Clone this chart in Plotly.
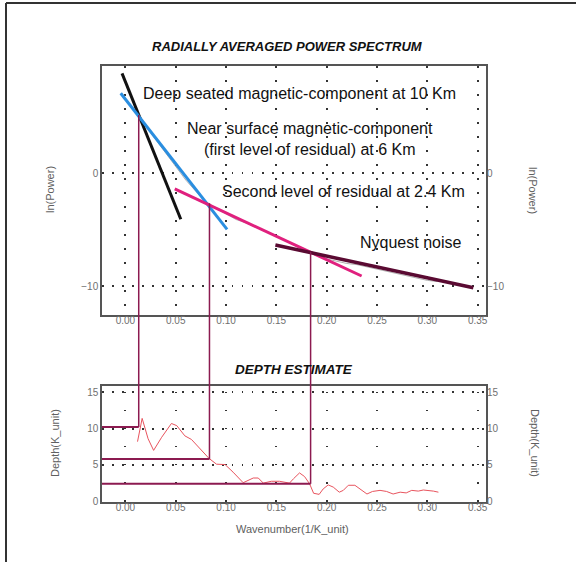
import plotly.graph_objects as go

# ---------------- data ----------------
# fitted straight-line segments on the power spectrum (wavenumber, ln(power))
deep_k = [-0.0034, 0.055]
deep_p = [8.87, -4.08]
near_k = [-0.0047, 0.101]
near_p = [7.1, -4.97]
second_k = [0.049, 0.2347]
second_p = [-1.39, -9.11]
nyq_k = [0.149, 0.3457]
nyq_p = [-6.36, -10.15]

# underlying (mostly hidden) radially averaged spectrum
spec_k = [0.005, 0.01, 0.02, 0.03, 0.04, 0.05, 0.06, 0.07, 0.08, 0.09, 0.10, 0.11,
          0.12, 0.13, 0.14, 0.15, 0.16, 0.17, 0.18, 0.19, 0.20, 0.21, 0.22, 0.23,
          0.24, 0.25, 0.26, 0.27, 0.28, 0.29, 0.30, 0.31]
spec_p = [5.9, 5.6, 4.2, 3.0, 1.9, 0.6, -0.6, -1.6, -2.5, -3.1, -3.6, -4.1,
          -4.4, -4.8, -5.2, -5.6, -6.0, -6.5, -6.9, -7.3, -7.6, -7.8, -8.0, -8.1,
          -8.3, -8.5, -8.7, -8.9, -9.1, -9.3, -9.5, -9.6]

# break points (intersections) and resulting depths
break_k = [0.0132, 0.0835, 0.184]
break_p = [5.17, -2.66, -6.96]
break_depth = [10.2, 5.8, 2.4]

# depth estimate curve
depth_k = [0.012, 0.0166, 0.0225, 0.028, 0.036, 0.0457, 0.051, 0.059, 0.0656, 0.074,
           0.083, 0.0905, 0.099, 0.107, 0.117, 0.127, 0.132, 0.137, 0.145, 0.153,
           0.163, 0.167, 0.173, 0.178, 0.183, 0.187, 0.1925, 0.1965, 0.2015, 0.2065,
           0.2125, 0.2165, 0.2215, 0.228, 0.2345, 0.24, 0.2455, 0.253, 0.2595, 0.266,
           0.273, 0.279, 0.2845, 0.291, 0.296, 0.301, 0.306, 0.311]
depth_v = [8.2, 11.4, 8.6, 7.0, 8.8, 10.7, 10.4, 9.0, 8.5, 7.3,
           5.9, 5.1, 5.05, 4.0, 2.55, 3.2, 3.2, 2.5, 2.75, 2.75,
           2.5, 3.1, 3.9, 3.4, 2.4, 1.1, 0.95, 1.7, 2.25, 1.95,
           1.25, 1.5, 2.2, 2.2, 1.5, 1.0, 1.35, 1.5, 1.35, 1.0,
           1.25, 1.15, 1.5, 1.4, 1.55, 1.5, 1.4, 1.25]

x_ticks = [0.0, 0.05, 0.10, 0.15, 0.20, 0.25, 0.30, 0.35]
top_yticks = [-10, 0]
bot_yticks = [0, 5, 10, 15]

# ---------------- layout geometry ----------------
X_RANGE = [-0.0233, 0.3583]
TOP_RANGE = [-12.57, 9.52]
BOT_RANGE = [-0.1, 15.85]
TOP_DOM = [0.4289, 1.0]
BOT_DOM = [0.0, 0.266]

FONT = "Arial, Liberation Sans, sans-serif"
TICKFONT = dict(family=FONT, size=10, color="#707070")
FRAME = "#555555"
GRID = "#333333"
CONNECT = "#8c1a50"


def to_paper(v, rng, dom):
    return dom[0] + (v - rng[0]) / (rng[1] - rng[0]) * (dom[1] - dom[0])


fig = go.Figure()

# top subplot traces
fig.add_trace(go.Scatter(x=spec_k, y=spec_p, mode="lines",
                         line=dict(color="#b0b0b0", width=1), xaxis="x", yaxis="y"))
fig.add_trace(go.Scatter(x=deep_k, y=deep_p, mode="lines",
                         line=dict(color="#111111", width=3), xaxis="x", yaxis="y"))
fig.add_trace(go.Scatter(x=near_k, y=near_p, mode="lines",
                         line=dict(color="#2a8ee0", width=3), xaxis="x", yaxis="y"))
fig.add_trace(go.Scatter(x=second_k, y=second_p, mode="lines",
                         line=dict(color="#e0207e", width=3), xaxis="x", yaxis="y"))
fig.add_trace(go.Scatter(x=nyq_k, y=nyq_p, mode="lines",
                         line=dict(color="#5a0a32", width=3.5), xaxis="x", yaxis="y3"))

# bottom subplot traces
fig.add_trace(go.Scatter(x=depth_k, y=depth_v, mode="lines",
                         line=dict(color="#e8545e", width=1), xaxis="x2", yaxis="y2"))
for k, d in zip(break_k, break_depth):
    fig.add_trace(go.Scatter(x=[X_RANGE[0], k], y=[d, d], mode="lines",
                             line=dict(color=CONNECT, width=2), xaxis="x2", yaxis="y4"))

# vertical connecting lines from intersections down to depth levels
for k, p, d in zip(break_k, break_p, break_depth):
    fig.add_shape(type="line", xref="x", yref="paper",
                  x0=k, x1=k,
                  y0=to_paper(p, TOP_RANGE, TOP_DOM),
                  y1=to_paper(d, BOT_RANGE, BOT_DOM),
                  line=dict(color=CONNECT, width=1.5))

# outer frame (left and top edges)
fig.add_shape(type="line", xref="paper", yref="paper", x0=-0.25, x1=-0.25, y0=-0.14, y1=1.1445,
              line=dict(color="#333333", width=2))
fig.add_shape(type="line", xref="paper", yref="paper", x0=-0.25, x1=1.25, y0=1.1445, y1=1.1445,
              line=dict(color="#333333", width=2))

xcommon = dict(range=X_RANGE, tickvals=x_ticks, tickformat=".2f", showgrid=True,
               gridcolor=GRID, gridwidth=1.5, showline=True, mirror=True,
               linecolor=FRAME, linewidth=1.5, ticks="", tickfont=TICKFONT,
               zeroline=False, ticklabelstandoff=-5)

fig.update_layout(
    width=576, height=562,
    margin=dict(l=102, r=90, t=66, b=60),
    paper_bgcolor="white", plot_bgcolor="white",
    showlegend=False,
    font=dict(family=FONT),
    xaxis=dict(domain=[0, 1], anchor="y", griddash="1.5px,12.5px", **xcommon),
    xaxis2=dict(domain=[0, 1], anchor="y2",
                griddash="0px,5.5px,1.5px,11.1px", **xcommon),
    yaxis=dict(domain=TOP_DOM, anchor="x", range=TOP_RANGE, tickvals=top_yticks,
               showgrid=True, gridcolor=GRID, gridwidth=1.5, griddash="1.5px,8.5px",
               showline=True, mirror=True, linecolor=FRAME, linewidth=1.5,
               ticks="", tickfont=TICKFONT, zeroline=False),
    yaxis3=dict(overlaying="y", side="right", anchor="x", range=TOP_RANGE,
                tickvals=top_yticks, showgrid=False, showline=False, ticks="",
                tickfont=TICKFONT, zeroline=False),
    yaxis2=dict(domain=BOT_DOM, anchor="x2", range=BOT_RANGE, tickvals=bot_yticks,
                showgrid=True, gridcolor=GRID, gridwidth=1.5, griddash="1.5px,8.5px",
                showline=True, mirror=True, linecolor=FRAME, linewidth=1.5,
                ticks="", tickfont=TICKFONT, zeroline=False),
    yaxis4=dict(overlaying="y2", side="right", anchor="x2", range=BOT_RANGE,
                tickvals=bot_yticks, showgrid=False, showline=False, ticks="",
                tickfont=TICKFONT, zeroline=False),
)

TXT = dict(family=FONT, size=16, color="#111111")
ann = [
    dict(text="Deep seated magnetic-component at 10 Km", x=0.1733, y=7.12),
    dict(text="Near surface magnetic-component<br>(first level of residual) at 6 Km",
         x=0.1833, y=3.04),
    dict(text="Second level of residual at 2.4 Km", x=0.2166, y=-1.57),
    dict(text="Nyquest noise", x=0.2832, y=-6.16),
]
for a in ann:
    fig.add_annotation(xref="x", yref="y", showarrow=False, font=TXT,
                       xanchor="center", yanchor="middle", align="center", **a)

# titles
fig.add_annotation(xref="paper", yref="paper", x=0.4818, y=1.0436, showarrow=False,
                   text="<b><i>RADIALLY AVERAGED POWER SPECTRUM</i></b>",
                   font=dict(family=FONT, size=13, color="#111111"),
                   xanchor="center", yanchor="middle")
fig.add_annotation(xref="paper", yref="paper", x=0.499, y=0.305, showarrow=False,
                   text="<b><i>DEPTH ESTIMATE</i></b>",
                   font=dict(family=FONT, size=13.5, color="#111111"),
                   xanchor="center", yanchor="middle")

AX = dict(family=FONT, size=11, color="#606060")
axlab = [
    dict(x=-0.1354, y=0.7156, text="ln(Power)", textangle=-90),
    dict(x=1.1224, y=0.7156, text="ln(Power)", textangle=90),
    dict(x=-0.1224, y=0.1353, text="Depth(K_unit)", textangle=-90),
    dict(x=1.1276, y=0.1353, text="Depth(K_unit)", textangle=90),
    dict(x=0.497, y=-0.0619, text="Wavenumber(1/K_unit)", textangle=0),
]
for a in axlab:
    fig.add_annotation(xref="paper", yref="paper", showarrow=False, font=AX,
                       xanchor="center", yanchor="middle", **a)

fig.write_html("out.html")
